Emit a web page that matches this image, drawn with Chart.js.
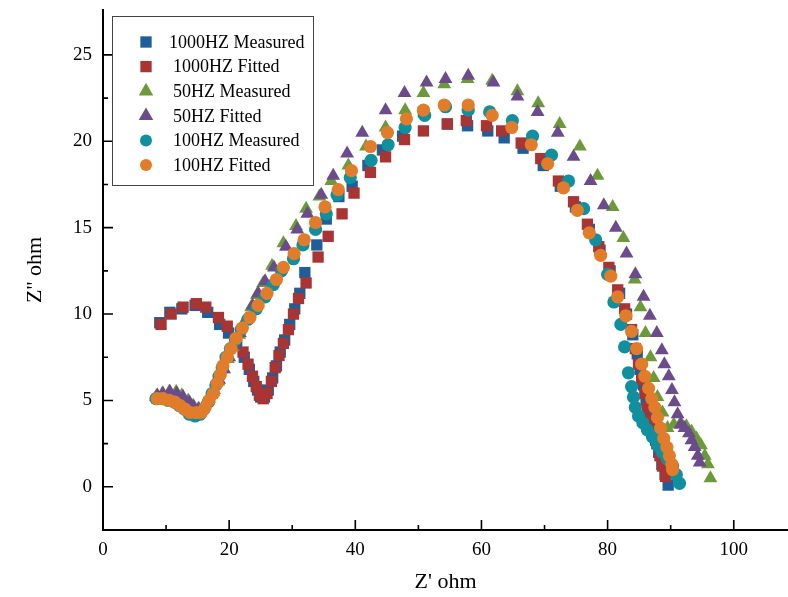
<!DOCTYPE html>
<html>
<head>
<meta charset="utf-8">
<script src="https://cdn.jsdelivr.net/npm/chart.js@4.4.0/dist/chart.umd.min.js"></script>
<style>html,body{margin:0;padding:0;background:#fff}#c{display:block}</style>
</head>
<body>
<canvas id="c" width="788" height="597"></canvas>
<script>
// ====== DATA ======
const seriesNames = ['1000HZ Measured','1000HZ Fitted','50HZ Measured','50HZ Fitted','100HZ Measured','100HZ Fitted'];

const hz1000MeasX = [9.0,10.6,12.5,14.6,16.6,18.5,19.9,21.2,22.4,23.2,23.9,24.5,25.0,25.6,26.2,26.9,27.5,28.1,28.8,29.6,30.4,31.2,32.0,33.9,35.4,37.4,39.5,42.0,44.3,47.5,50.8,54.6,57.8,61.0,63.6,66.6,69.8,72.5,74.9,77.1,78.8,80.4,81.9,83.0,84.0,84.7,85.2,85.7,86.1,86.6,87.1,87.6,88.1,88.6,89.1,89.6];
const hz1000MeasY = [9.5,10.1,10.3,10.5,10.1,9.4,8.9,8.2,7.5,6.8,6.1,5.6,5.2,5.2,5.6,6.3,7.0,7.8,8.5,9.4,10.3,11.2,12.4,14.0,15.5,16.8,17.4,18.6,19.5,20.3,21.7,21.0,20.9,20.6,20.2,19.6,18.6,17.4,16.2,14.9,13.7,12.5,11.2,10.0,8.8,7.7,6.8,5.9,5.0,4.2,3.5,2.7,2.0,1.3,0.7,0.1];

const hz1000FitX = [9.2,10.8,12.7,14.8,16.3,18.3,19.7,21.0,22.2,23.0,23.7,24.3,24.8,25.4,26.0,26.7,27.3,27.9,28.6,29.4,30.2,31.0,32.2,34.1,35.7,37.9,39.8,42.4,44.8,47.8,50.8,54.6,57.6,60.8,63.2,66.3,69.4,72.2,74.6,76.8,78.6,80.2,81.6,82.7,83.8,84.4,84.9,85.4,85.9,86.3,86.8,87.3,87.8,88.3,88.7,89.2];
const hz1000FitY = [9.4,10.0,10.4,10.6,10.4,9.8,9.3,8.6,7.8,7.1,6.4,5.8,5.3,5.1,5.4,6.1,6.9,7.6,8.3,9.1,10.0,10.9,11.8,13.3,14.5,15.8,17.0,18.2,19.1,20.1,20.6,21.0,21.2,20.9,20.6,19.9,19.0,17.7,16.5,15.2,13.9,12.7,11.4,10.3,9.1,8.0,7.1,6.2,5.4,4.6,3.9,3.2,2.5,1.8,1.2,0.6];

const hz50MeasX = [8.4,9.4,10.5,11.6,12.5,13.5,14.3,15.1,15.9,16.7,17.5,18.3,19.0,19.8,20.6,21.6,22.5,23.5,24.4,25.4,26.8,28.6,30.6,32.2,34.3,36.2,38.9,41.7,44.8,47.9,50.8,54.1,57.8,61.7,65.7,69.0,72.4,75.6,78.4,80.8,82.5,84.3,85.2,86.0,86.8,87.3,87.9,88.7,89.5,90.5,91.6,92.5,93.3,94.1,94.8,95.4,95.9,96.3];
const hz50MeasY = [5.2,5.4,5.5,5.5,5.3,5.0,4.7,4.5,4.6,5.0,5.5,6.1,6.8,7.4,8.1,8.8,9.6,10.4,11.1,11.8,12.8,14.1,15.1,16.1,16.8,17.7,18.6,19.7,20.8,21.8,22.8,23.3,23.6,23.5,22.9,22.2,21.0,19.7,18.0,16.2,14.4,12.0,10.4,8.9,7.5,6.3,5.2,4.3,3.4,3.6,3.7,3.5,3.2,2.8,2.4,1.8,1.3,0.5];

const hz50FitX = [8.6,9.5,10.6,11.7,12.7,13.7,14.4,15.2,16.0,16.8,17.6,18.4,19.2,20.0,20.8,21.7,22.7,23.7,24.6,25.7,27.1,29.0,30.8,32.4,34.6,36.5,38.7,41.1,44.8,47.8,51.3,54.3,57.9,61.9,65.7,68.9,72.1,74.6,77.3,79.4,81.3,83.0,84.4,85.7,86.7,87.8,88.6,89.0,89.7,90.2,90.6,91.1,91.6,92.2,92.9,93.3,93.8,94.3,94.6];
const hz50FitY = [5.3,5.4,5.5,5.4,5.2,4.9,4.6,4.5,4.7,5.1,5.6,6.2,6.8,7.5,8.2,8.9,9.7,10.5,11.2,11.9,12.7,13.9,14.9,15.8,16.9,18.0,19.3,20.5,21.8,22.8,23.4,23.6,23.8,23.4,22.6,21.7,20.5,19.1,17.7,16.3,15.0,13.5,12.3,11.0,9.9,8.9,7.9,7.1,6.4,5.6,4.9,4.2,3.6,3.4,3.1,2.7,2.3,1.8,1.4];

const hz100MeasX = [8.4,9.4,10.3,11.3,12.1,12.9,13.7,14.6,15.4,16.0,16.7,17.3,17.9,18.4,18.9,19.5,20.2,21.0,21.9,23.0,24.3,25.7,27.0,28.3,30.2,31.7,33.7,35.4,37.1,39.2,42.5,45.2,47.9,51.0,54.3,57.9,61.3,64.9,68.1,71.1,73.8,76.2,78.1,80.0,81.0,82.1,82.7,83.3,83.8,84.1,84.4,84.9,85.6,86.3,87.1,87.9,88.7,89.5,90.3,90.9,91.4];
const hz100MeasY = [5.1,5.1,5.0,4.9,4.7,4.5,4.2,4.1,4.2,4.5,4.9,5.4,5.9,6.4,6.9,7.5,8.0,8.5,9.1,9.7,10.3,11.0,11.7,12.5,13.2,14.0,14.9,15.8,16.9,17.9,18.9,19.8,20.8,21.5,22.0,21.8,21.7,21.2,20.3,19.2,17.7,16.1,14.3,12.3,10.7,9.4,8.1,6.6,5.8,5.2,4.6,4.1,3.7,3.3,2.9,2.4,2.0,1.6,1.2,0.7,0.2];

const hz100FitX = [8.6,9.5,10.5,11.4,12.2,13.0,13.8,14.8,15.6,16.2,16.8,17.5,18.1,18.6,19.0,19.7,20.3,21.1,22.1,23.3,24.6,26.0,27.5,28.6,30.3,31.9,33.7,35.2,37.3,39.4,42.4,45.1,48.1,50.8,54.1,57.9,61.7,64.8,67.9,70.5,73.0,75.2,77.1,78.9,80.5,81.6,82.9,83.8,84.6,85.4,85.9,86.5,87.0,87.5,87.9,88.4,88.9,89.4,89.8,90.2,90.3];
const hz100FitY = [5.1,5.1,5.0,4.9,4.7,4.5,4.3,4.3,4.3,4.6,5.0,5.4,6.0,6.5,7.0,7.5,8.0,8.6,9.2,9.8,10.5,11.2,12.0,12.7,13.5,14.3,15.3,16.2,17.2,18.3,19.7,20.5,21.3,21.8,22.1,22.1,21.5,20.8,19.8,18.7,17.3,16.0,14.7,13.4,12.2,11.0,9.9,9.0,8.0,7.1,6.4,5.7,5.1,4.6,4.0,3.4,2.8,2.3,1.8,1.3,1.0];

const xTicks = [0,20,40,60,80,100];
const xMinor = [10,30,50,70,90];
const yTicks = [0,5,10,15,20,25];
const yMinor = [2.5,7.5,12.5,17.5,22.5];

// ====== STYLE ======
const SERIF = '"Liberation Serif", "Times New Roman", serif';
const styles = [
  { color:'#1f5e99', shape:'rect',     r:8.0, order:6 },
  { color:'#a93434', shape:'rect',     r:8.0, order:5 },
  { color:'#6c9a3b', shape:'triangle', r:8.0, order:4 },
  { color:'#6b4b8b', shape:'triangle', r:8.0, order:3 },
  { color:'#10909f', shape:'circle',   r:6.6, order:2 },
  { color:'#e17c2b', shape:'circle',   r:6.6, order:1 }
];
const pairs = [[hz1000MeasX,hz1000MeasY],[hz1000FitX,hz1000FitY],[hz50MeasX,hz50MeasY],[hz50FitX,hz50FitY],[hz100MeasX,hz100MeasY],[hz100FitX,hz100FitY]];
const toPts = (xs,ys)=>xs.map((x,i)=>({x, y:ys[i]}));

const datasets = pairs.map(([xs,ys],i)=>({
  label: seriesNames[i], data: toPts(xs,ys), order: styles[i].order,
  pointStyle: styles[i].shape, pointRadius: styles[i].r, pointBorderWidth: 0,
  backgroundColor: styles[i].color, borderColor: styles[i].color, showLine:false
}));

// ====== PLUGINS ======
const inwardTicks = {
  id:'inwardTicks',
  afterDraw(chart){
    const {ctx, chartArea:a, scales:{x,y}} = chart;
    ctx.save(); ctx.strokeStyle='#000'; ctx.lineWidth=1.6; ctx.beginPath();
    const xt=(v,len)=>{ const p=x.getPixelForValue(v); ctx.moveTo(p,a.bottom); ctx.lineTo(p,a.bottom-len); };
    const yt=(v,len)=>{ const p=y.getPixelForValue(v); ctx.moveTo(a.left,p); ctx.lineTo(a.left+len,p); };
    xTicks.forEach(v=>xt(v,10)); xMinor.forEach(v=>xt(v,5));
    yTicks.forEach(v=>yt(v,10)); yMinor.forEach(v=>yt(v,5));
    ctx.stroke(); ctx.restore();
  }
};

const boxLegend = {
  id:'boxLegend',
  afterDraw(chart){
    const ctx = chart.ctx;
    ctx.save();
    ctx.fillStyle='#fff'; ctx.fillRect(112,16,201,169);
    ctx.strokeStyle='#444'; ctx.lineWidth=1; ctx.strokeRect(112.5,16.5,201,169);
    chart.data.datasets.forEach((ds,i)=>{
      const yy = 42 + i*24.6;
      ctx.fillStyle = ds.backgroundColor;
      Chart.helpers.drawPoint(ctx,{pointStyle:ds.pointStyle, radius: ds.pointStyle==='triangle'?8.4:(ds.pointStyle==='rect'?8:6), rotation:0, borderWidth:0}, 146, yy);
      ctx.fillStyle='#000'; ctx.font='18px '+SERIF; ctx.textBaseline='middle'; ctx.textAlign='left';
      ctx.fillText(ds.label, i===0?169:173, yy+1);
    });
    ctx.restore();
  }
};

// ====== CHART ======
new Chart(document.getElementById('c'), {
  type:'scatter',
  data:{ datasets },
  options:{
    responsive:false, animation:false,
    layout:{ autoPadding:false, padding:{ top:10, right:0, left:0, bottom:0 } },
    plugins:{ legend:{display:false}, tooltip:{enabled:false} },
    scales:{
      x:{
        type:'linear', min:0, max:108.6,
        afterBuildTicks:s=>{ s.ticks = xTicks.map(v=>({value:v})); },
        afterFit:s=>{ s.height = 67; s.paddingLeft = 0; s.paddingRight = 0; },
        grid:{ display:false, drawTicks:false },
        border:{ display:true, color:'#000', width:2 },
        ticks:{ color:'#000', padding:9, maxRotation:0, font:{ family:SERIF, size:19 } },
        title:{ display:true, text:"Z' ohm", color:'#000', font:{ family:SERIF, size:22 }, padding:{top:0,bottom:2} }
      },
      y:{
        type:'linear', min:-2.5, max:27.6,
        afterBuildTicks:s=>{ s.ticks = yTicks.map(v=>({value:v})); },
        afterFit:s=>{ s.width = 103; s.paddingTop = 0; s.paddingBottom = 0; },
        grid:{ display:false, drawTicks:false },
        border:{ display:true, color:'#000', width:2 },
        ticks:{ color:'#000', padding:11, font:{ family:SERIF, size:19 } },
        title:{ display:true, text:"Z'' ohm", color:'#000', font:{ family:SERIF, size:22 }, padding:{top:22,bottom:0} }
      }
    }
  },
  plugins:[inwardTicks, boxLegend]
});
</script>
</body>
</html>
